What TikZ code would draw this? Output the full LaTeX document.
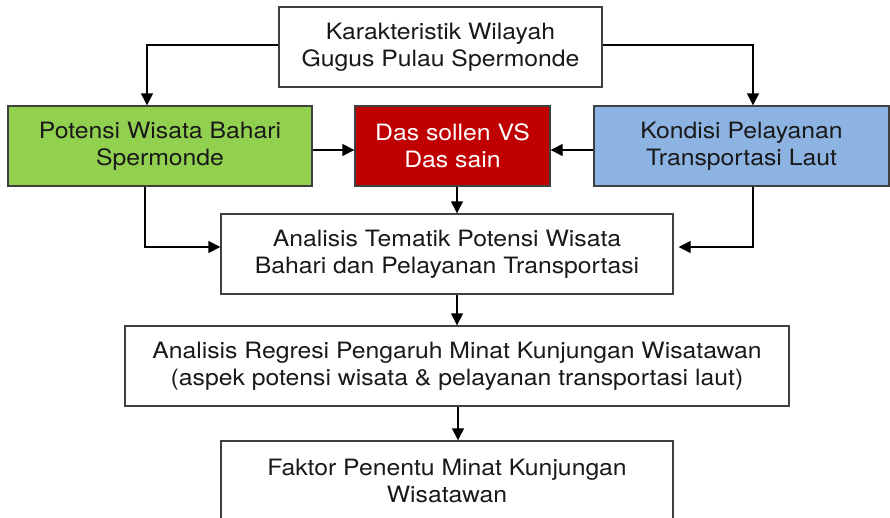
\documentclass[tikz,border=0pt]{standalone}
\usepackage{fontspec}
\setmainfont{TeX Gyre Heros}[FakeStretch=1.1]
\usetikzlibrary{arrows.meta}
\definecolor{boxgreen}{HTML}{92D050}
\definecolor{boxred}{HTML}{C00000}
\definecolor{boxblue}{HTML}{8DB3E2}
\definecolor{edgegray}{HTML}{404040}
\tikzset{
  box/.style={draw=edgegray, line width=1.4pt, rectangle, inner sep=0pt, align=center,
    font=\fontsize{22.5pt}{27.5pt}\selectfont, text=black!90},
  conn/.style={line width=1.4pt, -{Triangle[length=12pt,width=12pt]}},
}
\begin{document}
\begin{tikzpicture}[x=1pt,y=-1pt]
\path[use as bounding box] (0,0) rectangle (890,517);
\clip (0,0) rectangle (890,517);
\fill[white] (0,0) rectangle (890,517);
\node[box, minimum width=323pt, minimum height=80pt] (top) at (440.5,47) {Karakteristik Wilayah\\Gugus Pulau Spermonde};
\node[box, fill=boxgreen, minimum width=304pt, minimum height=80pt] (green) at (160,146) {Potensi Wisata Bahari\\Spermonde};
\node[box, fill=boxred, text=white, minimum width=195pt, minimum height=80pt] (red) at (452.5,146) {Das sollen VS\\Das sain};
\node[box, fill=boxblue, minimum width=295pt, minimum height=80pt] (blue) at (741.5,146) {Kondisi Pelayanan\\Transportasi Laut};
\node[box, minimum width=452pt, minimum height=80pt] (tema) at (447,254) {Analisis Tematik Potensi Wisata\\Bahari dan Pelayanan Transportasi};
\node[box, minimum width=664pt, minimum height=80pt] (regr) at (457,366) {Analisis Regresi Pengaruh Minat Kunjungan Wisatawan\\(aspek potensi wisata \& pelayanan transportasi laut)};
\node[box, minimum width=452pt, minimum height=80pt] (fakt) at (447,481) {Faktor Penentu Minat Kunjungan\\Wisatawan};

\draw[conn] ([yshift=2pt]top.west) -| ([xshift=-13pt]green.north);
\draw[conn] ([yshift=2pt]top.east) -| ([xshift=11.5pt]blue.north);
\draw[conn] ([yshift=-4pt]green.east) -- ([yshift=-4pt]red.west);
\draw[conn] ([yshift=-4pt]blue.west) -- ([yshift=-4pt]red.east);
\draw[conn] ([xshift=-15pt]green.south) |- ([yshift=7pt]tema.west);
\draw[conn, shorten >=5pt] ([xshift=11.5pt]blue.south) |- ([yshift=7pt]tema.east);
\draw[conn] ([xshift=4.5pt]red.south) -- ([xshift=4.5pt]red.south |- tema.north);
\draw[conn] (tema.south -| regr.north) -- (regr.north);
\draw[conn] ([xshift=1pt]regr.south) -- ([xshift=1pt]regr.south |- fakt.north);
\end{tikzpicture}
\end{document}
